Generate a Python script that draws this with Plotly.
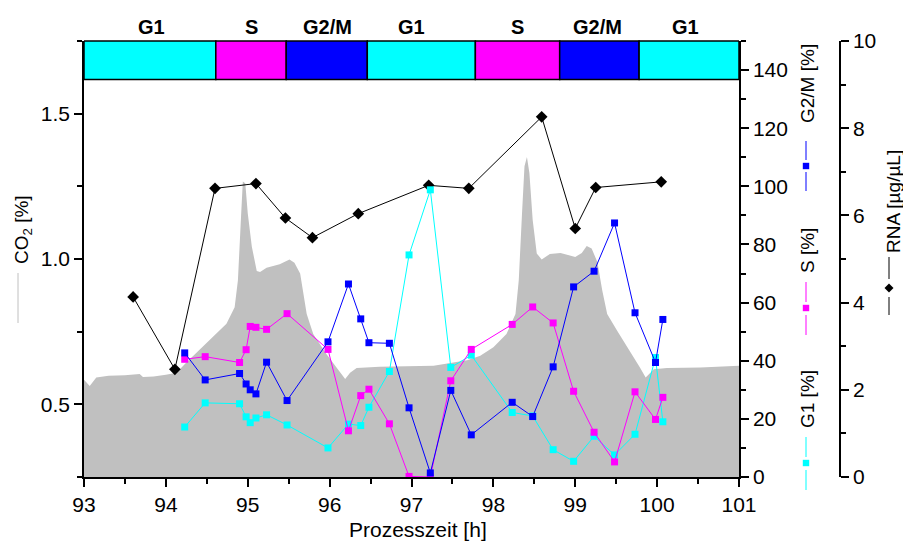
import plotly.graph_objects as go

# ---- CO2 off-gas signal (left axis) ----
co2_time = [93.00, 93.07, 93.15, 93.30, 93.50, 93.68, 93.72, 93.85, 94.00, 94.13,
            94.25, 94.49, 94.74, 94.84, 94.88, 94.92, 94.94, 94.97, 95.00, 95.05,
            95.11, 95.15, 95.23, 95.39, 95.51, 95.57, 95.64, 95.72, 95.80, 95.96,
            96.08, 96.19, 96.25, 96.33, 96.61, 96.98, 97.27, 97.68, 97.84, 98.00,
            98.16, 98.27, 98.31, 98.35, 98.38, 98.41, 98.44, 98.48, 98.53, 98.59,
            98.69, 98.82, 99.00, 99.08, 99.14, 99.20, 99.27, 99.33, 99.39, 99.51,
            99.67, 99.79, 99.86, 99.96, 100.12, 100.53, 101.00]
co2_value = [0.585, 0.563, 0.592, 0.598, 0.600, 0.604, 0.594, 0.596, 0.602, 0.609,
             0.644, 0.708, 0.777, 0.834, 0.927, 1.157, 1.267, 1.261, 1.157, 1.042,
             0.959, 0.955, 0.970, 0.982, 0.998, 0.987, 0.950, 0.811, 0.742, 0.673,
             0.627, 0.587, 0.609, 0.625, 0.629, 0.631, 0.633, 0.652, 0.667, 0.696,
             0.742, 0.811, 0.927, 1.157, 1.319, 1.351, 1.296, 1.134, 1.019, 0.998,
             1.017, 1.021, 1.007, 1.021, 1.045, 1.036, 0.990, 0.892, 0.811, 0.754,
             0.684, 0.627, 0.592, 0.621, 0.625, 0.627, 0.633]

# ---- cell-cycle phase distribution (%) ----
cc_time = [94.23, 94.48, 94.90, 94.98, 95.03, 95.10, 95.23, 95.48, 95.98, 96.23,
           96.38, 96.48, 96.73, 96.97, 97.23, 97.48, 97.73, 98.23, 98.48, 98.73,
           98.98, 99.23, 99.48, 99.73, 99.98, 100.07]
g1_pct = [17.2, 25.5, 25.2, 20.7, 18.7, 20.3, 21.4, 17.9, 10.0, 18.2,
          17.7, 24.0, 36.3, 76.4, 98.8, 37.7, 41.9, 22.2, 21.0, 9.4,
          5.4, 14.0, 7.6, 14.7, 41.1, 19.0]
s_pct = [40.5, 41.4, 39.4, 43.8, 51.8, 51.5, 50.8, 56.2, 43.9, 15.9,
         28.0, 30.2, 18.3, 0.2, 0.0, 33.1, 43.9, 52.5, 58.5, 53.0,
         29.5, 15.4, 5.2, 29.3, 19.8, 27.4]
g2m_pct = [42.7, 33.4, 35.6, 32.0, 30.0, 28.6, 39.5, 26.3, 46.5, 66.4,
           54.4, 46.2, 46.0, 23.8, 1.4, 29.8, 14.5, 25.7, 20.8, 37.9,
           65.4, 70.8, 87.4, 56.5, 39.4, 54.2]

# ---- RNA concentration ----
rna_time = [93.60, 94.11, 94.60, 95.10, 95.46, 95.79, 96.35, 97.21, 97.70,
            98.59, 99.00, 99.25, 100.05]
rna_conc = [4.13, 2.47, 6.62, 6.73, 5.94, 5.49, 6.04, 6.69, 6.62,
            8.26, 5.70, 6.64, 6.77]

# ---- phase band along the top ----
phase_names = ["G1", "S", "G2/M", "G1", "S", "G2/M", "G1"]
phase_start = [93.00, 94.61, 95.47, 96.46, 97.78, 98.81, 99.78]
phase_end = [94.61, 95.47, 96.46, 97.78, 98.81, 99.78, 101.00]
phase_label_x = [93.83, 95.04, 95.97, 97.00, 98.29, 99.27, 100.35]

C_G1 = "#00ffff"
C_S = "#ff00ff"
C_G2M = "#0000ff"
C_CO2 = "#c0c0c0"
phase_colors = {"G1": C_G1, "S": C_S, "G2/M": C_G2M}

FONT = "Liberation Sans, Arial, sans-serif"
W, H = 903, 541
ML, MR, MT, MB = 84, 63, 41, 64
PW = W - ML - MR
PH = H - MT - MB
X_END = (739 - ML) / PW  # right edge of the x domain


def px(x):
    return (x - ML) / PW


def py(y):
    return (H - MB - y) / PH


fig = go.Figure()

fig.add_trace(go.Scatter(
    x=co2_time, y=co2_value, mode="lines", fill="tozeroy",
    fillcolor=C_CO2, line=dict(color=C_CO2, width=0),
    yaxis="y", hoverinfo="skip", showlegend=False))

fig.add_trace(go.Scatter(
    x=rna_time, y=rna_conc, mode="lines+markers", yaxis="y2",
    line=dict(color="black", width=1),
    marker=dict(symbol="diamond", size=9, color="black"),
    showlegend=False))

for vals, col in [(g1_pct, C_G1), (s_pct, C_S), (g2m_pct, C_G2M)]:
    fig.add_trace(go.Scatter(
        x=cc_time, y=vals, mode="lines+markers", yaxis="y3",
        line=dict(color=col, width=1),
        marker=dict(symbol="square", size=7, color=col),
        showlegend=False))

shapes = []
annotations = []

# phase band rectangles and labels
for name, a, b, lx in zip(phase_names, phase_start, phase_end, phase_label_x):
    shapes.append(dict(type="rect", xref="x", yref="paper", x0=a, x1=b,
                       y0=py(79.5), y1=1.0, fillcolor=phase_colors[name],
                       line=dict(color="black", width=1.5), layer="above"))
    annotations.append(dict(xref="x", yref="paper", x=lx, y=py(27),
                            text=f"<b>{name}</b>", showarrow=False,
                            font=dict(family=FONT, size=20, color="black"),
                            xanchor="center", yanchor="middle"))

# axis captions with their line/marker keys
def caption(x, y, text):
    annotations.append(dict(xref="paper", yref="paper", x=px(x), y=py(y),
                            text=text, textangle=-90, showarrow=False,
                            font=dict(family=FONT, size=19, color="black"),
                            xanchor="center", yanchor="middle"))


def vline(x, y0, y1, col):
    shapes.append(dict(type="line", xref="paper", yref="paper",
                       x0=px(x), x1=px(x), y0=py(y0), y1=py(y1),
                       line=dict(color=col, width=1)))


def square(x, y, col, s=3.2):
    shapes.append(dict(type="rect", xref="paper", yref="paper",
                       x0=px(x - s), x1=px(x + s), y0=py(y + s), y1=py(y - s),
                       fillcolor=col, line=dict(width=0)))


caption(23, 230, "CO<sub>2</sub> [%]")
vline(18, 273, 323, C_CO2)

caption(807, 84, "G2/M [%]")
vline(806, 141, 160, C_G2M); square(806, 166, C_G2M); vline(806, 172, 191, C_G2M)

caption(807, 251, "S [%]")
vline(806, 282, 302, C_S); square(806, 308, C_S); vline(806, 315, 335, C_S)

caption(807, 399, "G1 [%]")
vline(806, 437, 457, C_G1); square(806, 463, C_G1); vline(806, 470, 490, C_G1)

caption(894, 202, "RNA [µg/µL]")
vline(889, 257, 279, "black"); vline(889, 297, 315, "black")
d = 4.5
shapes.append(dict(type="path", xref="paper", yref="paper",
                   path=(f"M {px(889)},{py(288 - d)} L {px(889 + d)},{py(288)} "
                         f"L {px(889)},{py(288 + d)} L {px(889 - d)},{py(288)} Z"),
                   fillcolor="black", line=dict(width=0)))

annotations.append(dict(xref="paper", yref="paper", x=px(418), y=py(529),
                        text="Prozesszeit [h]", showarrow=False,
                        font=dict(family=FONT, size=21, color="black"),
                        xanchor="center", yanchor="middle"))

axis_common = dict(showline=True, linecolor="black", linewidth=1.5,
                   ticks="outside", ticklen=8, tickwidth=1.5, tickcolor="black",
                   showgrid=False, zeroline=False,
                   tickfont=dict(family=FONT, size=21, color="black"))

fig.update_layout(
    width=W, height=H,
    margin=dict(l=ML, r=MR, t=MT, b=MB, pad=0),
    paper_bgcolor="white", plot_bgcolor="white",
    font=dict(family=FONT, color="black"),
    xaxis=dict(domain=[0, X_END], range=[93, 101], dtick=1, tick0=93,
               minor=dict(dtick=0.5, ticks="outside", ticklen=5,
                          tickwidth=1.5, tickcolor="black"),
               **axis_common),
    yaxis=dict(range=[0.25, 1.75], tick0=0.5, dtick=0.5, tickformat=".1f",
               minor=dict(dtick=0.25, tick0=0.25, ticks="outside", ticklen=5,
                          tickwidth=1.5, tickcolor="black"),
               **axis_common),
    yaxis2=dict(range=[0, 10], dtick=2, overlaying="y", side="right",
                anchor="free", position=1.0,
                minor=dict(dtick=1, ticks="outside", ticklen=5,
                           tickwidth=1.5, tickcolor="black"),
                **axis_common),
    yaxis3=dict(range=[0, 150], dtick=20, overlaying="y", side="right",
                anchor="x",
                minor=dict(dtick=10, ticks="outside", ticklen=5,
                           tickwidth=1.5, tickcolor="black"),
                **axis_common),
    shapes=shapes,
    annotations=annotations,
    showlegend=False,
)

fig.write_html("out.html")
